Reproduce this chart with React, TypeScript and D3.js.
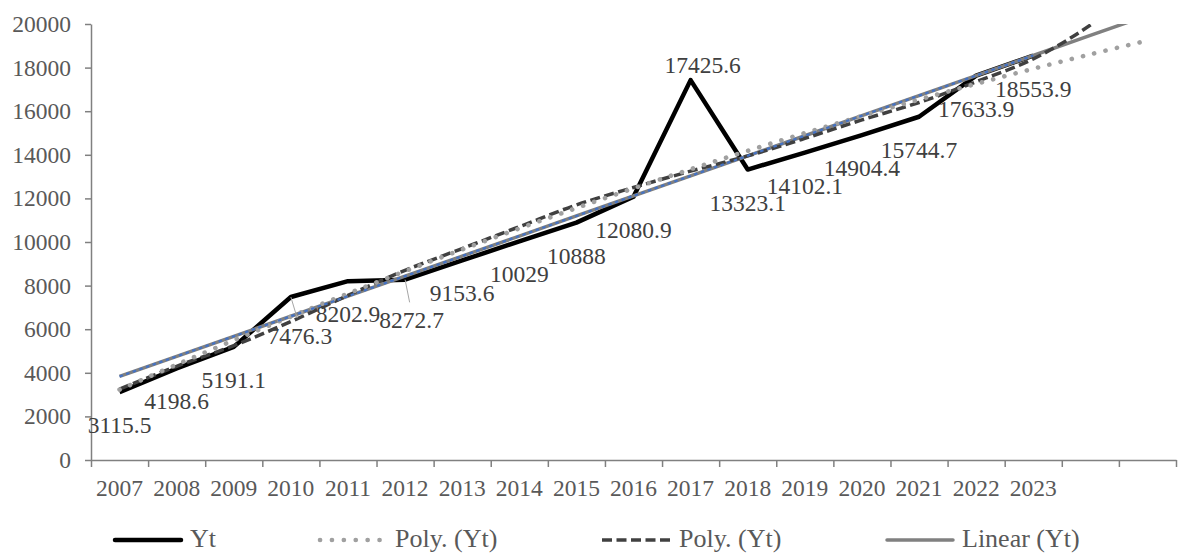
import React, { useEffect, useRef } from "react";
import * as d3 from "d3";

// categories (2 extra forecast periods on the right have no label)
const years = ["2007", "2008", "2009", "2010", "2011", "2012", "2013", "2014", "2015",
  "2016", "2017", "2018", "2019", "2020", "2021", "2022", "2023"];
const forecastSlots = ["", ""];

const yt = [3115.5, 4198.6, 5191.1, 7476.3, 8202.9, 8272.7, 9153.6, 10029, 10888,
  12080.9, 17425.6, 13323.1, 14102.1, 14904.4, 15744.7, 17633.9, 18553.9];

// trendlines at each period (incl. 2 forecast periods)
const polyDotted = [3227, 4375, 5492, 6579, 7635, 8662, 9657, 10623, 11558, 12463,
  13337, 14182, 14995, 15779, 16532, 17255, 17947, 18609, 19241];
const polyDashed = [3250, 4300, 5250, 6350, 7550, 8700, 9700, 10700, 11700, 12500,
  13250, 13950, 14750, 15600, 16400, 17350, 18400, 19950, 22000];
const linearTrend = [3834, 4754, 5674, 6594, 7514, 8434, 9354, 10274, 11194, 12114,
  13034, 13954, 14874, 15794, 16714, 17634, 18554, 19474, 20394];

const yTicks = [0, 2000, 4000, 6000, 8000, 10000, 12000, 14000, 16000, 18000, 20000];
const legendLabels = ["Yt", "Poly. (Yt)", "Poly. (Yt)", "Linear (Yt)"];

const font = "'Liberation Serif', 'Times New Roman', serif";

const App = () => {
  const chart = useRef<SVGSVGElement>(null);

  useEffect(() => {
    const width = 1179;
    const height = 553;
    const margin = { top: 24, right: 3, bottom: 93, left: 91 };

    const svg = d3.select(chart.current);
    svg.selectAll("*").remove();

    const labels = [...years, ...forecastSlots];
    const periods = d3.range(labels.length);

    const x = d3.scaleBand<number>()
      .domain(periods)
      .range([margin.left, width - margin.right]);
    const cx = (i: number) => (x(i) as number) + x.bandwidth() / 2;

    const y = d3.scaleLinear()
      .domain([0, 20000])
      .range([height - margin.bottom, margin.top]);

    const edges = d3.scaleLinear()
      .domain([0, labels.length])
      .range([margin.left, width - margin.right]);

    svg.append("defs").append("clipPath").attr("id", "plotClip")
      .append("rect")
      .attr("x", margin.left)
      .attr("y", margin.top)
      .attr("width", width - margin.left - margin.right)
      .attr("height", height - margin.top - margin.bottom);

    // y axis
    const yAxis = svg.append("g")
      .attr("transform", `translate(${margin.left},0)`)
      .call(d3.axisLeft(y).tickValues(yTicks).tickFormat(d3.format("d"))
        .tickSize(6).tickSizeOuter(0).tickPadding(14));

    // x axis: ticks at category edges, labels at centers
    const xTicks = svg.append("g")
      .attr("transform", `translate(0,${height - margin.bottom})`)
      .call(d3.axisBottom(edges).tickValues(d3.range(labels.length + 1)).tickSize(7)
        .tickSizeOuter(0).tickFormat(() => ""));

    const xLabels = svg.append("g")
      .attr("transform", `translate(0,${height - margin.bottom})`)
      .call(d3.axisBottom(x).tickSize(0).tickPadding(19).tickFormat(i => labels[i]));
    xLabels.select(".domain").remove();

    [yAxis, xTicks].forEach(g => {
      g.selectAll("path, line").attr("stroke", "#808080").attr("stroke-width", 1.5);
    });
    [yAxis, xLabels].forEach(g => {
      g.selectAll("text")
        .attr("fill", "#595959")
        .style("font-family", font)
        .style("font-size", "23.5px");
    });

    const line = d3.line<number>()
      .x((d, i) => cx(i))
      .y(d => y(d));
    const smooth = d3.line<number>()
      .x((d, i) => cx(i))
      .y(d => y(d))
      .curve(d3.curveCatmullRom.alpha(0.5));

    // actual series
    svg.append("path")
      .datum(yt)
      .attr("fill", "none")
      .attr("stroke", "#000")
      .attr("stroke-width", 4.5)
      .attr("stroke-linejoin", "round")
      .attr("d", line);

    const trends = svg.append("g").attr("clip-path", "url(#plotClip)");

    trends.append("path")
      .datum(linearTrend)
      .attr("fill", "none")
      .attr("stroke", "#808080")
      .attr("stroke-width", 3.5)
      .attr("d", line);

    trends.append("path")
      .datum(polyDashed)
      .attr("fill", "none")
      .attr("stroke", "#404040")
      .attr("stroke-width", 3.5)
      .attr("stroke-dasharray", "10 4.5")
      .attr("d", smooth);

    trends.append("path")
      .datum(polyDotted)
      .attr("fill", "none")
      .attr("stroke", "#a0a0a0")
      .attr("stroke-width", 4.6)
      .attr("stroke-linecap", "round")
      .attr("stroke-dasharray", "0.1 11.5")
      .attr("d", smooth);

    // blue linear fit over the observed years
    trends.append("path")
      .datum(linearTrend.slice(0, years.length))
      .attr("fill", "none")
      .attr("stroke", "#4472c4")
      .attr("stroke-width", 2.2)
      .attr("stroke-dasharray", "3.5 3.5")
      .attr("d", line);

    // data labels (below the point, a few were dragged in the original)
    const nudges: Record<number, { dx: number; dy: number; leader?: boolean }> = {
      3: { dx: 9, dy: 47, leader: true },
      5: { dx: 6.5, dy: 48.7, leader: true },
      10: { dx: 12, dy: -7.4 },
    };

    yt.forEach((v, i) => {
      const n = nudges[i] || { dx: 0, dy: 41 };
      const px = cx(i);
      const py = y(v);
      if (n.leader) {
        svg.append("line")
          .attr("x1", px).attr("y1", py)
          .attr("x2", px + n.dx * 0.7).attr("y2", py + n.dy - 26)
          .attr("stroke", "#a6a6a6")
          .attr("stroke-width", 1);
      }
      svg.append("text")
        .attr("x", px + n.dx)
        .attr("y", py + n.dy)
        .attr("text-anchor", "middle")
        .attr("fill", "#404040")
        .style("font-family", font)
        .style("font-size", "23.5px")
        .text(d3.format("")(v));
    });

    // legend
    const legendY = 540;
    const legendX = [113, 318, 602, 885];
    const styles = [
      { stroke: "#000", width: 4.5, dash: null, cap: "round" },
      { stroke: "#a0a0a0", width: 4.6, dash: "0.1 11.8", cap: "round" },
      { stroke: "#404040", width: 3.5, dash: "10 4.5", cap: "butt" },
      { stroke: "#808080", width: 3.5, dash: null, cap: "round" },
    ];
    legendLabels.forEach((label, i) => {
      const s = styles[i];
      const g = svg.append("g").attr("transform", `translate(${legendX[i]},${legendY})`);
      g.append("line")
        .attr("x1", s.cap === "round" ? 2 : 0).attr("x2", s.cap === "round" ? 68 : 70)
        .attr("y1", 0).attr("y2", 0)
        .attr("stroke", s.stroke)
        .attr("stroke-width", s.width)
        .attr("stroke-linecap", s.cap)
        .attr("stroke-dasharray", s.dash);
      g.append("text")
        .attr("x", 77)
        .attr("y", 7)
        .attr("fill", "#595959")
        .style("font-family", font)
        .style("font-size", "26px")
        .text(label);
    });
  }, []);

  return (
    <svg
      ref={chart}
      width={1179}
      height={553}
      style={{ position: "absolute", left: 0, top: 0, background: "#fff" }}
    />
  );
};

export default App;
